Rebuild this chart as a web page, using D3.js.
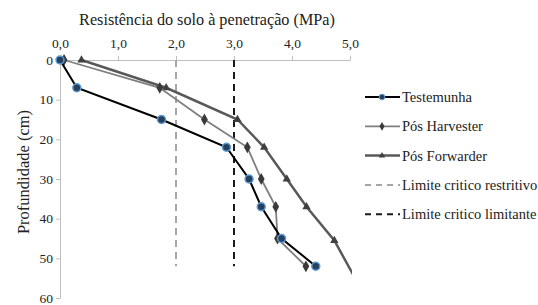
<html>
<script src="https://d3js.org/d3.v7.min.js"></script>
<body style="margin:0;background:#fff">
<svg width="538" height="305" font-family="Liberation Serif"></svg>
<script>
var depth = [0, 7, 15, 22, 30, 37, 45, 52];
var testemunha = [0.0, 0.29, 1.75, 2.87, 3.26, 3.47, 3.82, 4.41];
var harvester = [0.07, 1.72, 2.49, 3.23, 3.47, 3.72, 3.75, 4.24];
var forwarder = [0.37, 1.83, 3.06, 3.52, 3.91, 4.25, 4.73, 5.05];
var forwarderDepth = [0, 7, 15, 22, 30, 37, 45.5, 54];
var xTicks = [0, 1, 2, 3, 4, 5];
var yTicks = [0, 10, 20, 30, 40, 50, 60];
var limRestritivo = 2, limLimitante = 3, limDepth = 52;

var svg = d3.select("svg");
var serif = "Liberation Serif";
var x = d3.scaleLinear().domain([0, 5]).range([60, 350]);
var y = d3.scaleLinear().domain([0, 60]).range([60, 298]);
var fmt = function(d) { return d3.format(".1f")(d).replace(".", ","); };

svg.append("defs").append("clipPath").attr("id", "plot")
  .append("rect").attr("x", 50).attr("y", 50).attr("width", 302).attr("height", 250);

// axes
var xa = svg.append("g").attr("transform", "translate(0,60)")
  .call(d3.axisTop(x).tickValues(xTicks).tickFormat(fmt).tickSize(4).tickSizeOuter(0));
var ya = svg.append("g").attr("transform", "translate(60,0)")
  .call(d3.axisLeft(y).tickValues(yTicks).tickSize(4).tickSizeOuter(0));
[xa, ya].forEach(function(a) {
  a.attr("font-family", serif).attr("font-size", 13.5);
  a.selectAll("path,line").attr("stroke", "#bfbfbf");
  a.selectAll("text").attr("fill", "#222").attr("font-family", serif);
});
xa.selectAll("text").attr("dy", "-0.4em");

svg.append("text").attr("x", 207).attr("y", 25).attr("text-anchor", "middle")
  .attr("font-family", serif).attr("font-size", 16.2).attr("fill", "#222")
  .text("Resistência do solo à penetração (MPa)");
svg.append("text").attr("transform", "translate(29,172) rotate(-90)").attr("text-anchor", "middle")
  .attr("font-family", serif).attr("font-size", 16.5).attr("fill", "#222")
  .text("Profundidade (cm)");

// limit lines
[[limRestritivo, "#a6a6a6"], [limLimitante, "#1a1a1a"]].forEach(function(l) {
  svg.append("line").attr("x1", x(l[0])).attr("x2", x(l[0])).attr("y1", y(0)).attr("y2", y(limDepth))
    .attr("stroke", l[1]).attr("stroke-width", 2).attr("stroke-dasharray", "7,5");
});

var plot = svg.append("g").attr("clip-path", "url(#plot)");
var line = d3.line().x(function(d) { return x(d[0]); }).y(function(d) { return y(d[1]); });

var series = [
  {vals: d3.zip(forwarder, forwarderDepth), color: "#595959", w: 2.5, sym: d3.symbolTriangle, size: 30, fill: "#404040", stroke: "none"},
  {vals: d3.zip(harvester, depth), color: "#7f7f7f", w: 1.8, sym: d3.symbolDiamond, size: 40, fill: "#3a3a3a", stroke: "none"},
  {vals: d3.zip(testemunha, depth), color: "#000", w: 2, sym: d3.symbolCircle, size: 50, fill: "#27405e", stroke: "#5b9bd5"}
];
series.forEach(function(s) {
  plot.append("path").datum(s.vals).attr("d", line).attr("fill", "none")
    .attr("stroke", s.color).attr("stroke-width", s.w);
  // markers only inside the axis range
  plot.selectAll(null).data(s.vals.filter(function(d) { return d[0] <= 5; })).enter().append("path")
    .attr("d", d3.symbol().type(s.sym).size(s.size))
    .attr("transform", function(d) { return "translate(" + x(d[0]) + "," + y(d[1]) + ")"; })
    .attr("fill", s.fill).attr("stroke", s.stroke).attr("stroke-width", 1.5);
});

// legend
var legend = [
  {name: "Testemunha", color: "#000", w: 2, sym: d3.symbolCircle, size: 25, fill: "#27405e", stroke: "#5b9bd5"},
  {name: "Pós Harvester", color: "#7f7f7f", w: 1.8, sym: d3.symbolDiamond, size: 22, fill: "#3a3a3a", stroke: "none"},
  {name: "Pós Forwarder", color: "#595959", w: 2.5, sym: d3.symbolTriangle, size: 18, fill: "#404040", stroke: "none"},
  {name: "Limite critico restritivo", color: "#a6a6a6", w: 2, dash: "6,5"},
  {name: "Limite critico limitante", color: "#1a1a1a", w: 2, dash: "6,5"}
];
var lg = svg.append("g");
legend.forEach(function(d, i) {
  var yy = 97 + i * 29.3;
  lg.append("line").attr("x1", 365).attr("x2", 400).attr("y1", yy).attr("y2", yy)
    .attr("stroke", d.color).attr("stroke-width", d.w).attr("stroke-dasharray", d.dash || null);
  if (d.sym) {
    lg.append("path").attr("d", d3.symbol().type(d.sym).size(d.size))
      .attr("transform", "translate(382," + yy + ")")
      .attr("fill", d.fill).attr("stroke", d.stroke).attr("stroke-width", 1);
  }
  lg.append("text").attr("x", 402).attr("y", yy).attr("dy", "0.35em")
    .attr("font-family", serif).attr("font-size", 14.5).attr("fill", "#222").text(d.name);
});
</script>
</body>
</html>
